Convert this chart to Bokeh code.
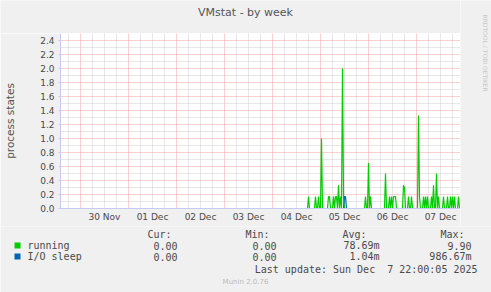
from datetime import datetime, timedelta
import math

from bokeh.plotting import figure
from bokeh.layouts import column, row
from bokeh.models import (Range1d, FixedTicker, ColumnDataSource, NumeralTickFormatter)
from bokeh.core.properties import value
from bokeh.embed import file_html
from bokeh.resources import INLINE

# ---------------- data ----------------
chart_title = "VMstat - by week"
y_label = "process states"
watermark = "RRDTOOL / TOBI OETIKER"
footer = "Munin 2.0.76"
last_update = "Last update: Sun Dec \u00a07 22:00:05 2025"

series_names = ["running", "I/O sleep"]
series_colors = ["#00CC00", "#0066B3"]

day_labels = ["30 Nov", "01 Dec", "02 Dec", "03 Dec", "04 Dec", "05 Dec", "06 Dec", "07 Dec"]
day_dates = ["2025-11-30", "2025-12-01", "2025-12-02", "2025-12-03",
             "2025-12-04", "2025-12-05", "2025-12-06", "2025-12-07"]
y_ticks = [0.0, 0.2, 0.4, 0.6, 0.8, 1.0, 1.2, 1.4, 1.6, 1.8, 2.0, 2.2, 2.4]
y_minor = [0.1, 0.3, 0.5, 0.7, 0.9, 1.1, 1.3, 1.5, 1.7, 1.9, 2.1, 2.3, 2.5]

view_start = "2025-11-29 14:00"
view_end = "2025-12-07 22:00"
data_start = "2025-12-04 14:00"
step_minutes = 30

running = [
    0, 0, 0, 0, 0, 0, 0, 0, 0.17, 0, 0, 0, 0, 0, 0, 0.17, 0, 0, 0.17, 0,
    0, 1.0, 0, 0, 0, 0, 0, 0, 0.17, 0.17, 0, 0, 0, 0.17, 0, 0.17, 0.17, 0, 0.33, 0,
    0.17, 0, 2.0, 0.17, 0, 0, 0, 0, 0, 0, 0, 0, 0, 0, 0, 0, 0, 0, 0, 0,
    0, 0, 0, 0, 0, 0.17, 0, 0, 0.65, 0, 0.17, 0, 0, 0, 0, 0, 0, 0, 0, 0,
    0, 0, 0, 0, 0, 0.5, 0, 0, 0, 0.17, 0, 0.17, 0, 0.17, 0.17, 0.17, 0, 0, 0, 0,
    0, 0, 0, 0.33, 0.3, 0, 0, 0, 0.17, 0, 0, 0.17, 0, 0, 0, 0, 0, 0, 1.33, 0.17,
    0, 0, 0, 0.17, 0, 0.17, 0, 0.17, 0, 0, 0, 0.17, 0, 0.33, 0, 0, 0.5, 0, 0.17, 0,
    0, 0, 0, 0.17, 0, 0, 0, 0.17, 0, 0, 0.17, 0, 0.17, 0, 0.17, 0, 0, 0, 0.17, 0,
    0,
]
io_sleep = [
    0, 0, 0, 0, 0, 0, 0, 0, 0, 0, 0, 0, 0, 0, 0, 0, 0, 0, 0, 0,
    0, 0, 0, 0, 0, 0, 0, 0, 0, 0, 0, 0, 0, 0, 0, 0, 0, 0, 0, 0,
    0, 0, 0, 0, 0.17, 0.17, 0, 0, 0, 0, 0, 0, 0, 0, 0, 0, 0, 0, 0, 0,
    0, 0, 0, 0, 0, 0, 0, 0, 0, 0, 0, 0, 0, 0, 0, 0, 0, 0, 0, 0,
    0, 0, 0, 0, 0, 0, 0, 0, 0, 0, 0, 0, 0, 0, 0, 0, 0, 0, 0, 0,
    0, 0, 0, 0, 0, 0, 0, 0, 0, 0, 0, 0, 0, 0, 0, 0, 0, 0, 0, 0,
    0, 0, 0, 0, 0, 0, 0, 0, 0, 0, 0, 0, 0, 0, 0, 0, 0, 0, 0, 0,
    0, 0, 0, 0, 0, 0, 0, 0, 0, 0, 0, 0, 0, 0, 0, 0, 0, 0, 0, 0,
    0,
]
stat_headers = ["Cur:", "Min:", "Avg:", "Max:"]
stat_cur = ["0.00", "0.00"]
stat_min = ["0.00", "0.00"]
stat_avg = ["78.69m", "1.04m"]
stat_max = ["9.90", "986.67m"]

# ---------------- helpers ----------------
EPOCH = datetime(1970, 1, 1)


def ms(dt):
    return (dt - EPOCH).total_seconds() * 1000.0


def parse(s):
    return datetime.strptime(s, "%Y-%m-%d %H:%M")


t0 = parse(data_start)
times = [ms(t0 + timedelta(minutes=step_minutes * i)) for i in range(len(running))]

x0 = ms(parse(view_start))
x1 = ms(parse(view_end))

midnights = [ms(datetime.strptime(d, "%Y-%m-%d")) for d in day_dates]
noons = [m + 12 * 3600 * 1000 for m in midnights]
six_h = 6 * 3600 * 1000
minor_x = []
t = midnights[0] - 24 * 3600 * 1000
while t < x1:
    if t > x0 and t not in midnights:
        minor_x.append(t)
    t += six_h

# ---------------- styles ----------------
FONT = "DejaVu Sans"
MONO = "DejaVu Sans Mono"
TXT = "#4a4a4a"
AXIS = "#C8C8F4"
BG = "#F0F0F0"


def strip(w, h, xr, yr):
    """A plain figure whose frame fills it, used for texts around the plot."""
    f = figure(width=w, height=h, output_backend="svg", toolbar_location=None,
               x_range=Range1d(*xr), y_range=Range1d(*yr),
               x_axis_location=None, y_axis_location=None,
               min_border_left=0, min_border_right=0, min_border_top=0, min_border_bottom=0)
    f.frame_align = False
    f.border_fill_color = BG
    f.background_fill_color = BG
    f.outline_line_color = None
    f.grid.visible = False
    return f


# ---------------- title strip ----------------
top = strip(460, 33, (0, 460), (33, 0))
top.text(x=[245], y=[12], text=[chart_title], text_align="center", text_baseline="middle",
         text_font=value(FONT), text_font_size="11px", text_color="#555555")

# ---------------- main plot ----------------
p = figure(width=460, height=193, output_backend="svg", toolbar_location=None,
           x_range=Range1d(x0, x1), y_range=Range1d(0, 2.5),
           min_border_left=60, min_border_right=0, min_border_top=0, min_border_bottom=18)
p.frame_align = False
p.border_fill_color = BG
p.background_fill_color = "white"
p.outline_line_color = None

# axes
p.xaxis.ticker = FixedTicker(ticks=noons)
p.xaxis.major_label_overrides = {int(n): lab for n, lab in zip(noons, day_labels)}
p.xaxis.major_tick_out = 0
p.xaxis.major_tick_in = 0
p.xaxis.minor_tick_out = 0
p.xaxis.minor_tick_in = 0
p.xaxis.major_label_standoff = 3
p.yaxis.ticker = FixedTicker(ticks=y_ticks)
p.yaxis.formatter = NumeralTickFormatter(format="0.0")
p.yaxis.major_tick_out = 2
p.yaxis.major_tick_in = 0
p.yaxis.minor_tick_out = 0
p.yaxis.minor_tick_in = 0
p.yaxis.major_label_standoff = 4
p.yaxis.axis_label = y_label
p.yaxis.axis_label_standoff = 21
p.yaxis.axis_label_text_font = FONT
p.yaxis.axis_label_text_font_size = "10.5px"
p.yaxis.axis_label_text_font_style = "normal"
p.yaxis.axis_label_text_color = "#555555"
for ax in (p.xaxis, p.yaxis):
    ax.axis_line_color = AXIS
    ax.major_tick_line_color = AXIS
    ax.major_label_text_font = FONT
    ax.major_label_text_font_size = "9px"
    ax.major_label_text_color = TXT

# grids
p.xgrid.ticker = FixedTicker(ticks=midnights, minor_ticks=minor_x)
p.ygrid.ticker = FixedTicker(ticks=y_ticks[1:], minor_ticks=y_minor)
for g in (p.xgrid, p.ygrid):
    g.grid_line_color = "#F4A0A0"
    g.grid_line_dash = "1 1"
    g.minor_grid_line_color = "#CFCFCF"
    g.minor_grid_line_dash = "1 1"

# series
src = ColumnDataSource(dict(t=times, running=running, io=io_sleep))
p.line("t", "running", source=src, line_color=series_colors[0], line_width=1.2)
p.line("t", "io", source=src, line_color=series_colors[1], line_width=1.2)

# ---------------- right strip (watermark) ----------------
right = strip(31, 226, (460, 491), (226, 0))
right.text(x=[485], y=[14], text=[watermark], text_align="left", text_baseline="middle",
           angle=-math.pi / 2, text_font=value(FONT), text_font_size="6px",
           text_color="#C8C8C8")

# ---------------- legend strip (canvas coordinates, y grows downward) ----------------
q = strip(491, 66, (0, 491), (292, 226))

header_x = [171, 269, 366, 464]
value_x = [177, 276, 379, 471]
row_y = [245, 256]

mono = dict(text_font=value(MONO), text_font_size="10px", text_color=TXT, text_baseline="middle")
q.text(x=header_x, y=[234] * 4, text=stat_headers, text_align="right", **mono)
q.scatter(x=[17, 17], y=row_y, marker="square", size=6, fill_color=series_colors,
          line_color=None)
q.text(x=[27, 27], y=row_y, text=series_names, text_align="left", **mono)
vx, vy, vt = [], [], []
for k in range(2):
    for vals, xx in zip((stat_cur, stat_min, stat_avg, stat_max), value_x):
        vx.append(xx)
        vy.append(row_y[k])
        vt.append(vals[k])
q.text(x=vx, y=vy, text=vt, text_align="right", **mono)
q.text(x=[477], y=[268.5], text=[last_update], text_align="right", **mono)
q.text(x=[245], y=[281], text=[footer], text_align="center", text_baseline="middle",
       text_font=value(FONT), text_font_size="7px", text_color="#BBBBBB")

layout = column(row(column(top, p, spacing=0), right, spacing=0), q, spacing=0)
open("out.html", "w").write(file_html(layout, INLINE))
